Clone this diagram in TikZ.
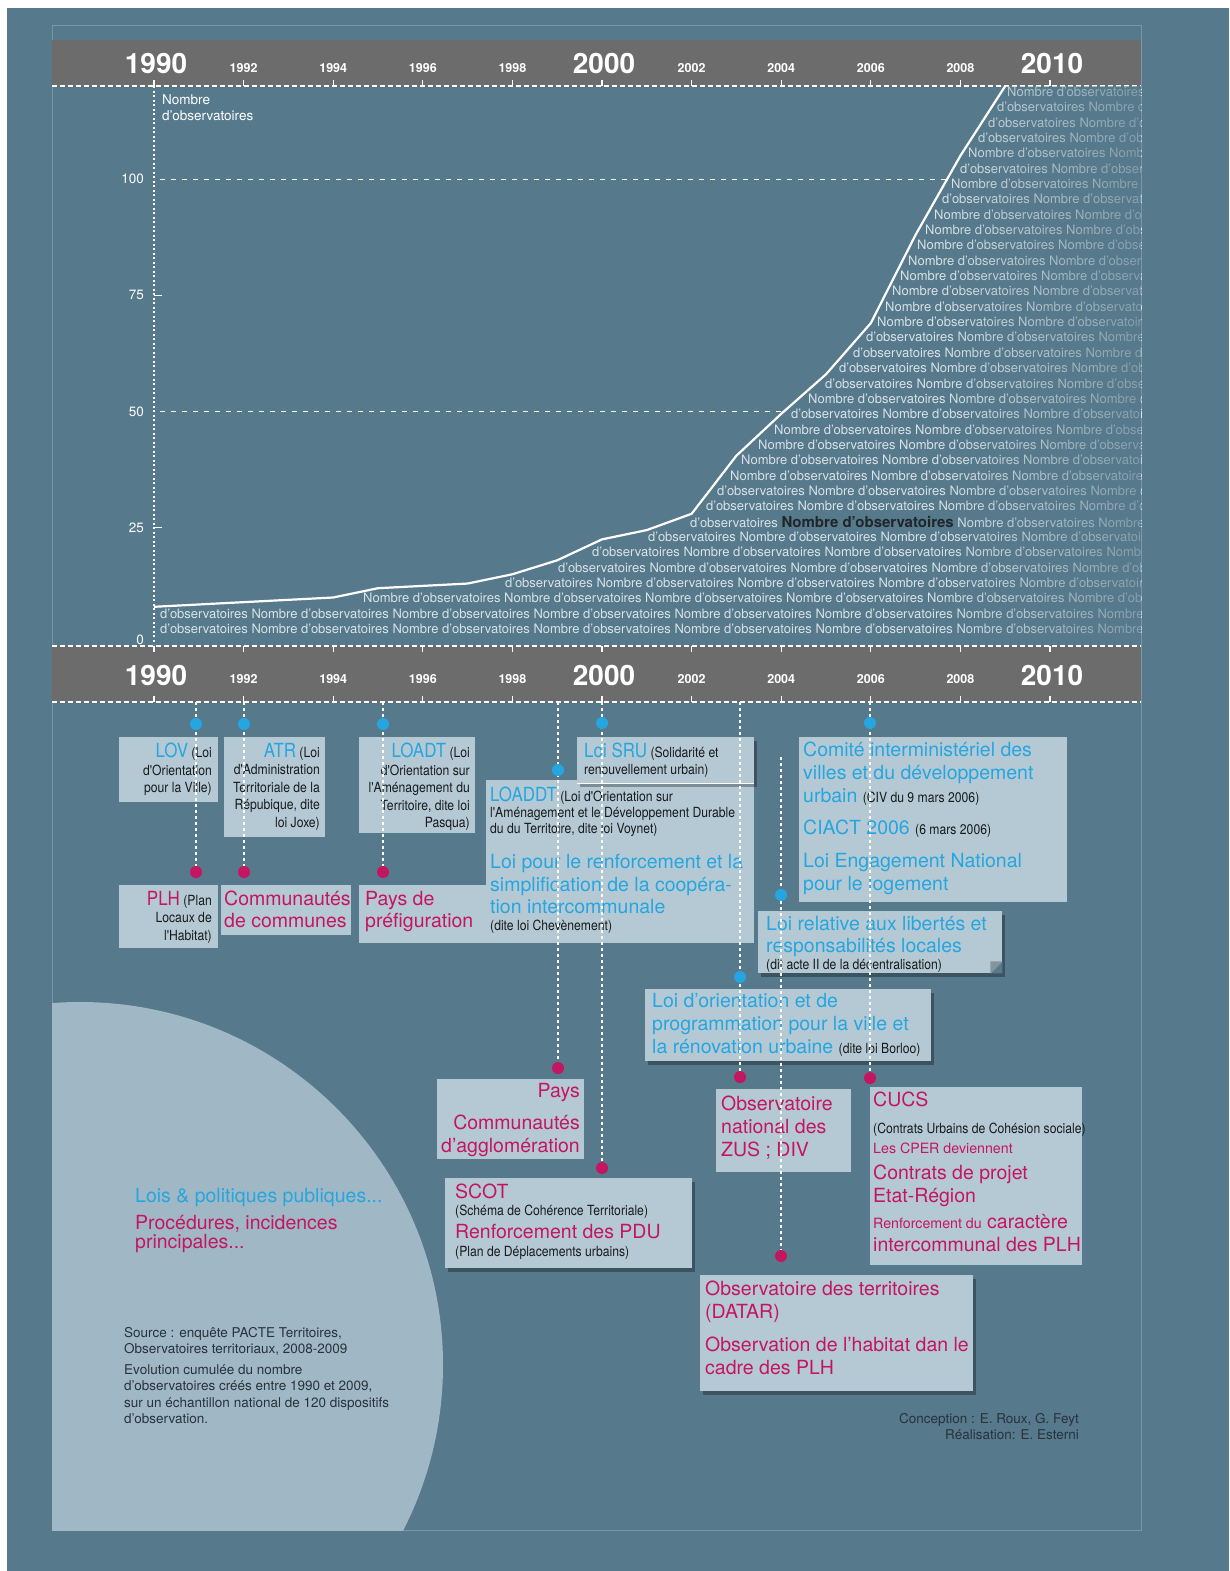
\documentclass[tikz,border=0pt]{standalone}
\usepackage{fontspec}
\setmainfont{TeX Gyre Heros}
\newfontfamily\condfont[FakeStretch=0.87]{TeX Gyre Heros}
\usetikzlibrary{positioning,shadows,fadings}

\definecolor{slate}{RGB}{86,121,139}
\definecolor{panelline}{RGB}{122,151,167}
\definecolor{bandgray}{RGB}{108,108,109}
\definecolor{boxfill}{RGB}{181,201,212}
\definecolor{discfill}{RGB}{160,184,197}
\definecolor{lawcyan}{RGB}{38,166,224}
\definecolor{procmag}{RGB}{196,22,96}
\definecolor{inkdark}{RGB}{24,26,28}
\definecolor{notegray}{RGB}{40,50,60}
\definecolor{rowwhite}{RGB}{236,241,244}

\newcommand{\law}[1]{{\color{lawcyan}\fontsize{19.5}{22}\selectfont #1}}
\newcommand{\proc}[1]{{\color{procmag}\fontsize{19.5}{22}\selectfont #1}}
\newcommand{\procsm}[1]{{\color{procmag}\fontsize{14.2}{16}\selectfont #1}}
\newcommand{\smallnote}[1]{{\condfont\fontsize{14}{16}\selectfont\color{inkdark}#1}}
\newcommand{\nobs}{Nombre d'observatoires}
\newcommand{\rowN}{\nobs\ \nobs\ \nobs\ \nobs\ \nobs\ \nobs\ \nobs}
\newcommand{\rowd}{d'observatoires \rowN}
\newcommand{\rowB}{d'observatoires {\color{inkdark}\fontsize{15}{15}\bfseries\selectfont Nombre d'observatoires} \rowN}

\tikzset{
  infobox/.style={fill=boxfill, inner sep=0pt, anchor=north west},
  shadowed/.style={drop shadow={shadow xshift=3pt, shadow yshift=-4pt, opacity=0.3, fill=black}},
  boxtext/.style={inner sep=0pt, text=inkdark, font=\condfont\fontsize{14}{#1}\selectfont},
  boxtext/.default=17.5,
  lawbig/.style={inner sep=0pt, align=left, text=lawcyan, font=\fontsize{19.5}{#1}\selectfont},
  lawbig/.default=23,
  procbig/.style={inner sep=0pt, align=left, text=procmag, font=\fontsize{19.5}{#1}\selectfont},
  procbig/.default=23,
  lawdot/.style={circle, fill=lawcyan, inner sep=0pt, minimum size=12pt},
  procdot/.style={circle, fill=procmag, inner sep=0pt, minimum size=12pt},
  timeline/.style={white, line width=1.3pt, dash pattern=on 3pt off 3pt},
  bandline/.style={white, line width=1.3pt, dash pattern=on 5pt off 3pt},
  yearbig/.style={text=white, font=\bfseries\fontsize{28}{30}\selectfont},
  yearsmall/.style={text=white, font=\bfseries\fontsize{12.5}{14}\selectfont},
  rowtext/.style={anchor=west, inner sep=0pt, text=rowwhite, text opacity=0.88, font=\fontsize{13}{15}\selectfont},
  axislabel/.style={text=white, inner sep=0pt, font=\fontsize{13.5}{16}\selectfont}
}

\begin{document}
\begin{tikzpicture}[x=1pt, y=-1pt]
\useasboundingbox (0,0) rectangle (1229,1571);
\fill[slate] (0,0) rectangle (1229,1571);
\fill[white] (0,0) rectangle (1229,8);
\fill[white] (0,0) rectangle (7,1571);
\draw[panelline, line width=0.8pt] (52,25) rectangle (1141,1530);

% bands
\fill[bandgray] (52,40) rectangle (1141,86);
\fill[bandgray] (52,646) rectangle (1141,702);
\draw[bandline] (52,86) -- (1141,86);
\draw[bandline] (52,646) -- (1141,646);
\draw[bandline] (52,702) -- (1141,702);
\foreach \k in {0,...,10} {
  \draw[white, line width=1.2pt] ({154+89.6*\k},80) -- ({154+89.6*\k},86);
  \draw[white, line width=1.2pt] ({154+89.6*\k},646) -- ({154+89.6*\k},652);
  \draw[white, line width=1.2pt] ({154+89.6*\k},696) -- ({154+89.6*\k},702);
}
\foreach \k/\yr in {0/1990,5/2000,10/2010} {
  \node[yearbig] (top\yr) at ({156+89.6*\k},63) {\yr};
  \node[yearbig] (bot\yr) at ({156+89.6*\k},675) {\yr};
}
\foreach \k/\yr in {1/1992,2/1994,3/1996,4/1998,6/2002,7/2004,8/2006,9/2008} {
  \node[yearsmall] (top\yr) at ({154+89.6*\k},68) {\yr};
  \node[yearsmall] (bot\yr) at ({154+89.6*\k},679) {\yr};
}

% disc
\begin{scope}
  \clip (52,25) rectangle (1141,1530);
  \fill[discfill] (80,1365) circle (363pt);
\end{scope}

% chart
\begin{scope}[shift={(154,644)}, x=44.8pt, y=4.65pt]
  \foreach \t/\v [count=\i] in {0/8,4/10,5/12,7/13,8/15,9/18,10/22.5,11/24.5,12/28,13/40.5,14/49.5,15/58,16/69,17/88,18/105,19/120}
    \coordinate (p\i) at (\t,\v);
\end{scope}
\draw[white, line width=1.5pt, dash pattern=on 2pt off 2.5pt] (154,86) -- (154,644);
\draw[white, line width=1pt, dash pattern=on 5pt off 6pt] (160,179) -- (947,179);
\draw[white, line width=1pt, dash pattern=on 5pt off 6pt] (160,411.5) -- (784,411.5);
\draw[white, line width=1.2pt] (154,295.25) -- (162,295.25);
\draw[white, line width=1.2pt] (154,527.75) -- (162,527.75);
\foreach \v/\yy in {100/179,75/295,50/411.5,25/528,0/640}
  \node[axislabel, anchor=east] (tick\v) at (144,\yy) {\v};
\node[axislabel, anchor=north west, align=left] (ylabel) at (162,94) {Nombre\\d'observatoires};

\begin{scope}
  \clip (154,644) \foreach \i in {1,...,16} {-- (p\i)} -- (1141,86) -- (1141,644) -- cycle;
  \foreach \ry/\rx/\rw [count=\r] in {629/160/d, 613.65/160/d, 598.3/363/N, 582.95/505/d, 567.6/558/d,
      552.25/592/d, 536.9/648/d, 521.55/690/B, 506.2/706/d, 490.85/717/d, 475.5/730/N, 460.15/741/N,
      444.8/758/N, 429.45/774/N, 414.1/791/d, 398.75/808/N, 383.4/825/d, 368.05/839/d, 352.7/853/d,
      337.35/866/d, 322/877/N, 306.65/885/N, 291.3/892/N, 275.95/900/N, 260.6/908/N, 245.25/917/N,
      229.9/925/N, 214.55/934/N, 199.2/942/d, 183.85/951/N, 168.5/960/d, 153.15/968/N, 137.8/978/d,
      122.45/988/d, 107.1/997/d, 91.75/1007/N}
    \node[rowtext] (row\r) at (\rx,\ry) {\csname row\rw\endcsname};
  \fill[slate, path fading=west, fill opacity=0.65] (940,80) rectangle (1141,644);
\end{scope}
\draw[white, line width=2.2pt, line join=round] (p1) \foreach \i in {2,...,16} {-- (p\i)};

% boxes
\node[infobox, minimum width=99pt, minimum height=65pt] (lovbox) at (119,737) {};
\node[boxtext, anchor=north east, align=right] (lov) at (212,743) {\law{LOV} (Loi\\d'Orientation\\pour la Ville)};
\node[infobox, minimum width=99pt, minimum height=63pt] (plhbox) at (119,885) {};
\node[boxtext, anchor=north east, align=right] (plh) at (212,891) {\proc{PLH} (Plan\\Locaux de\\l'Habitat)};
\node[infobox, minimum width=101pt, minimum height=100pt] (atrbox) at (224,737) {};
\node[boxtext, anchor=north east, align=right] (atr) at (320,743) {\law{ATR} (Loi\\d'Administration\\Territoriale de la\\Répubique, dite\\loi Joxe)};
\node[infobox, minimum width=130pt, minimum height=50pt] (ccbox) at (221,885) {};
\node[procbig=22, anchor=north west] (cc) at (224,891) {Communautés\\de communes};
\node[infobox, minimum width=116pt, minimum height=96pt] (loadtbox) at (359,737) {};
\node[boxtext, anchor=north east, align=right] (loadt) at (470,743) {\law{LOADT} (Loi\\d'Orientation sur\\l'Aménagement du\\Territoire, dite loi\\Pasqua)};
\node[infobox, minimum width=128pt, minimum height=58pt] (paysbox) at (359,885) {};
\node[procbig=22, anchor=north west] (pays) at (365,891) {Pays de\\préfiguration};
\node[infobox, minimum width=268pt, minimum height=163pt] (loaddtbox) at (486,780) {};
\node[boxtext=16, anchor=north west, align=left] (loaddt) at (490,786.5) {\law{LOADDT} (Loi d'Orientation sur\\l'Aménagement et le Développement Durable\\du du Territoire, dite loi Voynet)};
\node[lawbig=22.7, anchor=north west] (chevenement) at (490,854) {Loi pour le renforcement et la\\simplification de la coopéra-\\tion intercommunale\\[-6pt]\smallnote{(dite loi Chevènement)}};
\node[infobox, shadowed, minimum width=177pt, minimum height=46pt] (srubox) at (577,737) {};
\draw[white, line width=1pt] (srubox.south west) -- (srubox.south east);
\node[boxtext=17, anchor=north west, align=left] (sru) at (584,743) {\law{Loi SRU} (Solidarité et\\renouvellement urbain)};
\node[infobox, minimum width=268pt, minimum height=165pt] (civbox) at (799,737) {};
\node[lawbig, anchor=north west] (civ) at (803,742) {Comité interministériel des\\villes et du développement\\urbain \smallnote{(CIV du 9 mars 2006)}\\[9pt]CIACT 2006 \smallnote{(6 mars 2006)}\\[10pt]Loi Engagement National\\pour le logement};
\node[infobox, shadowed, minimum width=244pt, minimum height=62pt] (relbox) at (758,911) {};
\fill[slate] (relbox.south east) -- ++(0,-12) -- ++(-12,12) -- cycle;
\fill[boxfill!70!inkdark] (relbox.south east) ++(0,-12) -- ++(-12,12) -- ++(0,-12) -- cycle;
\node[lawbig=22, anchor=north west] (rel) at (766,916) {Loi relative aux libertés et\\responsabilités locales\\[-5pt]\smallnote{(dit acte II de la décentralisation)}};
\node[infobox, shadowed, minimum width=286pt, minimum height=72pt] (borloobox) at (645,989) {};
\node[lawbig, anchor=north west] (borloo) at (652,993) {Loi d'orientation et de\\programmation pour la ville et\\la rénovation urbaine \smallnote{(dite loi Borloo)}};
\node[infobox, minimum width=135pt, minimum height=83pt] (zusbox) at (716,1089) {};
\node[procbig, anchor=north west] (zus) at (721,1096) {Observatoire\\national des\\ZUS ; DIV};
\node[infobox, minimum width=212pt, minimum height=178pt] (cucsbox) at (870,1087) {};
\node[procbig, anchor=north west] (cucs) at (873,1092) {CUCS\\[3.7pt]\smallnote{(Contrats Urbains de Cohésion sociale)}\\[-3pt]\procsm{Les CPER deviennent}\\[3.3pt]Contrats de projet\\Etat-Région\\[2.3pt]\procsm{Renforcement du} caractère\\intercommunal des PLH};
\node[infobox, shadowed, minimum width=273pt, minimum height=116pt] (datarbox) at (700,1275) {};
\node[procbig, anchor=north west] (datar) at (705,1281) {Observatoire des territoires\\(DATAR)\\[10pt]Observation de l'habitat dan le\\cadre des PLH};
\node[infobox, minimum width=147pt, minimum height=80pt] (cabox) at (437,1079) {};
\node[procbig=22.7, anchor=north east, align=right] (ca) at (580,1083) {Pays\\[9.6pt]Communautés\\d'agglomération};
\node[infobox, shadowed, minimum width=247pt, minimum height=90pt] (scotbox) at (445,1178) {};
\node[procbig=22, anchor=north west] (scot) at (455,1184) {SCOT\\[-5pt]\smallnote{(Schéma de Cohérence Territoriale)}\\[1pt]Renforcement des PDU\\[-4.5pt]\smallnote{(Plan de Déplacements urbains)}};

% timelines
\foreach \x/\lawy/\procy/\top [count=\i] in {196/724/872/702, 244/724/872/702, 383/724/872/702,
    558/770/1068/702, 602/723/1168/702, 740/977/1077/702, 781/895/1256/757, 870/723/1078/702} {
  \coordinate (start\i) at (\x,\top);
  \coordinate (end\i) at (\x,\procy);
  \draw[timeline] (start\i) -- (end\i);
  \node[lawdot] (law\i) at (\x,\lawy) {};
  \node[procdot] (proc\i) at (end\i) {};
}

% legend and notes
\node[inner sep=0pt, anchor=north west, align=left, font=\fontsize{19.5}{19}\selectfont] (legend) at (135,1188)
  {\law{Lois \& politiques publiques...}\\[8.3pt]\proc{Procédures, incidences}\\[-0.5pt]\proc{principales...}};
\node[inner sep=0pt, anchor=north west, align=left, text=notegray, font=\fontsize{13.5}{16.5}\selectfont] (source) at (124,1327)
  {Source : enquête PACTE Territoires,\\Observatoires territoriaux, 2008-2009\\[4pt]Evolution cumulée du nombre\\d'observatoires créés entre 1990 et 2009,\\sur un échantillon national de 120 dispositifs\\d'observation.};
\node[inner sep=0pt, anchor=north east, align=right, text=notegray, font=\fontsize{13.5}{16.6}\selectfont] (credits) at (1079,1413)
  {Conception : E. Roux, G. Feyt\\Réalisation: E. Esterni};
\end{tikzpicture}
\end{document}
